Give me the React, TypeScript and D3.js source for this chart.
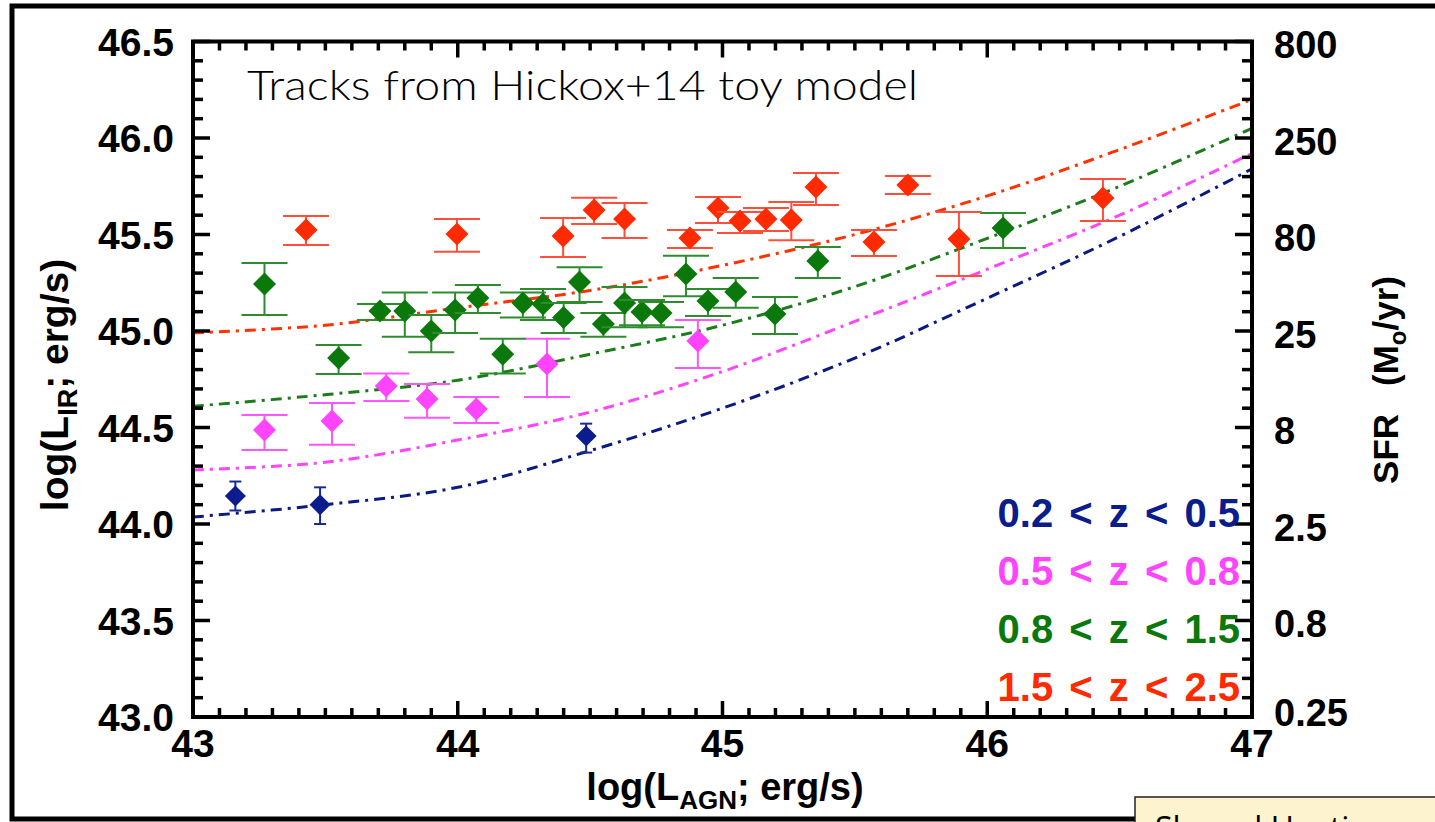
import React from "react";
import * as d3 from "d3";

// ---------- data ----------
// each point: [log L_AGN, log L_IR, lower error, upper error]
const blueZ: number[][] = [
  [43.16, 44.145, 44.07, 44.22],
  [43.48, 44.1, 44.0, 44.19],
  [44.485, 44.456, 44.37, 44.52],
];
const magentaZ: number[][] = [
  [43.27, 44.487, 44.383, 44.565],
  [43.525, 44.534, 44.41, 44.627],
  [43.73, 44.715, 44.637, 44.78],
  [43.884, 44.648, 44.55, 44.725],
  [44.07, 44.596, 44.523, 44.658],
  [44.337, 44.829, 44.658, 44.96],
  [44.907, 44.948, 44.808, 45.057],
];
const greenZ: number[][] = [
  [43.27, 45.244, 45.083, 45.352],
  [43.55, 44.86, 44.777, 44.927],
  [43.706, 45.104, 45.057, 45.14],
  [43.8, 45.104, 44.97, 45.2],
  [43.9, 45.0, 44.89, 45.083],
  [43.99, 45.109, 44.99, 45.2],
  [44.076, 45.171, 45.093, 45.238],
  [44.17, 44.88, 44.78, 44.96],
  [44.246, 45.145, 45.07, 45.2],
  [44.322, 45.14, 45.057, 45.218],
  [44.4, 45.07, 44.99, 45.145],
  [44.46, 45.254, 45.15, 45.33],
  [44.55, 45.036, 44.97, 45.093],
  [44.63, 45.145, 45.02, 45.228],
  [44.696, 45.098, 45.03, 45.16],
  [44.768, 45.093, 45.02, 45.15],
  [44.862, 45.295, 45.18, 45.39],
  [44.945, 45.155, 45.078, 45.218],
  [45.05, 45.202, 45.12, 45.275],
  [45.198, 45.088, 44.984, 45.176],
  [45.36, 45.363, 45.275, 45.435],
  [46.06, 45.534, 45.43, 45.611],
];
const redZ: number[][] = [
  [43.427, 45.523, 45.446, 45.596],
  [43.997, 45.503, 45.41, 45.58],
  [44.398, 45.492, 45.383, 45.585],
  [44.515, 45.627, 45.554, 45.69],
  [44.63, 45.58, 45.482, 45.663],
  [44.877, 45.482, 45.43, 45.523],
  [44.983, 45.637, 45.56, 45.694],
  [45.066, 45.57, 45.508, 45.617],
  [45.164, 45.58, 45.518, 45.637],
  [45.26, 45.575, 45.47, 45.668],
  [45.353, 45.746, 45.653, 45.819],
  [45.572, 45.461, 45.389, 45.523],
  [45.7, 45.756, 45.71, 45.803],
  [45.893, 45.477, 45.285, 45.617],
  [46.437, 45.689, 45.57, 45.788],
];

// model tracks (Hickox+14 toy model), sampled along log L_AGN
const trackX = [43, 43.5, 44, 44.5, 45, 45.5, 46, 46.5, 47];
const trackRed = [44.99, 45.03, 45.12, 45.21, 45.34, 45.5, 45.7, 45.94, 46.2];
const trackGreen = [44.61, 44.67, 44.745, 44.88, 45.03, 45.23, 45.48, 45.75, 46.05];
const trackMagenta = [44.28, 44.32, 44.435, 44.58, 44.79, 45.05, 45.32, 45.6, 45.92];
const trackBlue = [44.036, 44.1, 44.19, 44.38, 44.6, 44.86, 45.17, 45.49, 45.84];

const xTicks = [43, 44, 45, 46, 47];
const yTicks = [43.0, 43.5, 44.0, 44.5, 45.0, 45.5, 46.0, 46.5];
const sfrLabels = ["0.25", "0.8", "2.5", "8", "25", "80", "250", "800"];
const legendLabels = ["0.2 < z < 0.5", "0.5 < z < 0.8", "0.8 < z < 1.5", "1.5 < z < 2.5"];

// ---------- styling ----------
const C = {
  blue: "#0b1c8c",
  magenta: "#ff44ff",
  green: "#0a780a",
  red: "#ff2a00",
};
const ERR = {
  blue: "#1a2a95",
  magenta: "#ff55ff",
  green: "#2e8b2e",
  red: "#ff4f3a",
};

const W = 1435;
const H = 822;
const L = 193, R = 1252, T = 41.5, B = 717;
const FONT = "'Liberation Sans', Arial, Helvetica, sans-serif";

export default function App() {
  const x = d3.scaleLinear().domain([43, 47]).range([L, R]);
  const y = d3.scaleLinear().domain([43, 46.5]).range([B, T]);

  const minorX = d3.range(430, 471).map((v) => v / 10);
  const minorY = d3.range(430, 466).map((v) => v / 10);

  const line = d3
    .line<[number, number]>()
    .x((d) => x(d[0]))
    .y((d) => y(d[1]))
    .curve(d3.curveCatmullRom.alpha(0.5));

  const tracks: [number[], string][] = [
    [trackRed, "#ff3300"],
    [trackGreen, "#1a7d1a"],
    [trackMagenta, "#ff44ff"],
    [trackBlue, "#0a1a80"],
  ];

  const groups: [number[][], string, string, number][] = [
    [blueZ, C.blue, ERR.blue, 6],
    [magentaZ, C.magenta, ERR.magenta, 23],
    [greenZ, C.green, ERR.green, 23],
    [redZ, C.red, ERR.red, 23],
  ];

  const diamond = (cx: number, cy: number, r: number) =>
    `M${cx},${cy - r}L${cx + r},${cy}L${cx},${cy + r}L${cx - r},${cy}Z`;

  const isMajorX = (v: number) => Math.abs(v - Math.round(v)) < 1e-6;
  const isMajorY = (v: number) => Math.abs(v * 2 - Math.round(v * 2)) < 1e-6;

  const legendColors = [C.blue, C.magenta, C.green, C.red];

  return (
    <svg
      width={W}
      height={H}
      style={{ position: "absolute", left: 0, top: 0, display: "block", background: "#fff" }}
      fontFamily={FONT}
    >
      <rect x={0} y={0} width={W} height={H} fill="#fff" />

      {/* outer slide frame */}
      <path d={`M${W + 5},6H12V819H1135`} fill="none" stroke="#000" strokeWidth={5} />
      {/* bottom-right note box */}
      <rect x={1135} y={797} width={320} height={50} fill="#fdf4cf" stroke="#222" strokeWidth={1.5} />
      <text x={1155} y={840} fontSize={32} fill="#000" fontFamily="'Open Sans', sans-serif">
        Slowed Heating
      </text>

      {/* tracks */}
      {tracks.map(([vals, col], i) => (
        <path
          key={"t" + i}
          d={line(trackX.map((v, j) => [v, vals[j]] as [number, number])) || ""}
          fill="none"
          stroke={col}
          strokeWidth={3}
          strokeDasharray="11,6,3,6"
        />
      ))}

      {/* points with error bars */}
      {groups.map(([pts, col, ecol, cap], gi) => (
        <g key={"g" + gi}>
          {pts.map((p, i) => {
            const cx = x(p[0]);
            const cy = y(p[1]);
            const yl = y(p[2]);
            const yh = y(p[3]);
            return (
              <g key={i}>
                <line x1={cx} x2={cx} y1={yl} y2={yh} stroke={ecol} strokeWidth={2} />
                <line x1={cx - cap} x2={cx + cap} y1={yl} y2={yl} stroke={ecol} strokeWidth={2} />
                <line x1={cx - cap} x2={cx + cap} y1={yh} y2={yh} stroke={ecol} strokeWidth={2} />
                <path d={diamond(cx, cy, gi === 0 ? 10.5 : 11.5)} fill={col} />
              </g>
            );
          })}
        </g>
      ))}

      {/* axes frame */}
      <rect x={L} y={T} width={R - L} height={B - T} fill="none" stroke="#000" strokeWidth={4} />

      {/* x ticks bottom & top (inward) */}
      {minorX.map((v, i) => {
        const len = isMajorX(v) ? 16 : 9;
        return (
          <g key={"xt" + i}>
            <line x1={x(v)} x2={x(v)} y1={B} y2={B - len} stroke="#000" strokeWidth={3.5} />
            <line x1={x(v)} x2={x(v)} y1={T} y2={T + len} stroke="#000" strokeWidth={3.5} />
          </g>
        );
      })}
      {/* y ticks left & right (inward) */}
      {minorY.map((v, i) => {
        const len = isMajorY(v) ? 17 : 10;
        return (
          <g key={"yt" + i}>
            <line x1={L} x2={L + len} y1={y(v)} y2={y(v)} stroke="#000" strokeWidth={3.5} />
            <line x1={R} x2={R - len} y1={y(v)} y2={y(v)} stroke="#000" strokeWidth={3.5} />
          </g>
        );
      })}

      {/* x tick labels */}
      {xTicks.map((v) => (
        <text
          key={"xl" + v}
          x={x(v)}
          y={757}
          textAnchor="middle"
          fontSize={39}
          fontWeight="bold"
          fill="#000"
        >
          {v}
        </text>
      ))}
      {/* y tick labels left */}
      {yTicks.map((v) => (
        <text
          key={"yl" + v}
          x={174}
          y={y(v)}
          dy="0.36em"
          textAnchor="end"
          fontSize={39}
          fontWeight="bold"
          fill="#000"
        >
          {v.toFixed(1)}
        </text>
      ))}
      {/* SFR labels right */}
      {yTicks.map((v, i) => (
        <text
          key={"yr" + v}
          x={1274}
          y={y(v) + (i === 0 ? -5 : 3)}
          dy="0.36em"
          textAnchor="start"
          fontSize={38}
          fontWeight="bold"
          fill="#000"
        >
          {sfrLabels[i]}
        </text>
      ))}

      {/* axis titles */}
      <text x={725} y={800} textAnchor="middle" fontSize={38} fontWeight="bold" fill="#000">
        log(L
        <tspan fontSize={26} dy={9}>AGN</tspan>
        <tspan dy={-9}>; erg/s)</tspan>
      </text>
      <text
        transform="translate(68,385) rotate(-90)"
        textAnchor="middle"
        fontSize={39}
        fontWeight="bold"
        fill="#000"
      >
        log(L
        <tspan fontSize={27} dy={9}>IR</tspan>
        <tspan dy={-9}>; erg/s)</tspan>
      </text>
      <text
        transform="translate(1398,380) rotate(-90)"
        textAnchor="middle"
        fontSize={35}
        fontWeight="bold"
        fill="#000"
      >
        SFR
        <tspan dx={28}>(M</tspan>
        <tspan fontSize={24} dy={8}>o</tspan>
        <tspan dy={-8}>/yr)</tspan>
      </text>

      {/* inset title */}
      <text
        x={247}
        y={100}
        fontSize={42}
        fontWeight={300}
        fill="#000"
        fontFamily="'Lato', 'Open Sans', sans-serif"
        textLength={671}
        lengthAdjust="spacingAndGlyphs"
      >
        Tracks from Hickox+14 toy model
      </text>

      {/* legend */}
      {legendLabels.map((t, i) => (
        <text
          key={"lg" + i}
          x={1240}
          y={527 + i * 58}
          textAnchor="end"
          fontSize={40}
          fontWeight="bold"
          fill={legendColors[i]}
          style={{ wordSpacing: "5px", whiteSpace: "pre" }}
        >
          {t}
        </text>
      ))}
    </svg>
  );
}
